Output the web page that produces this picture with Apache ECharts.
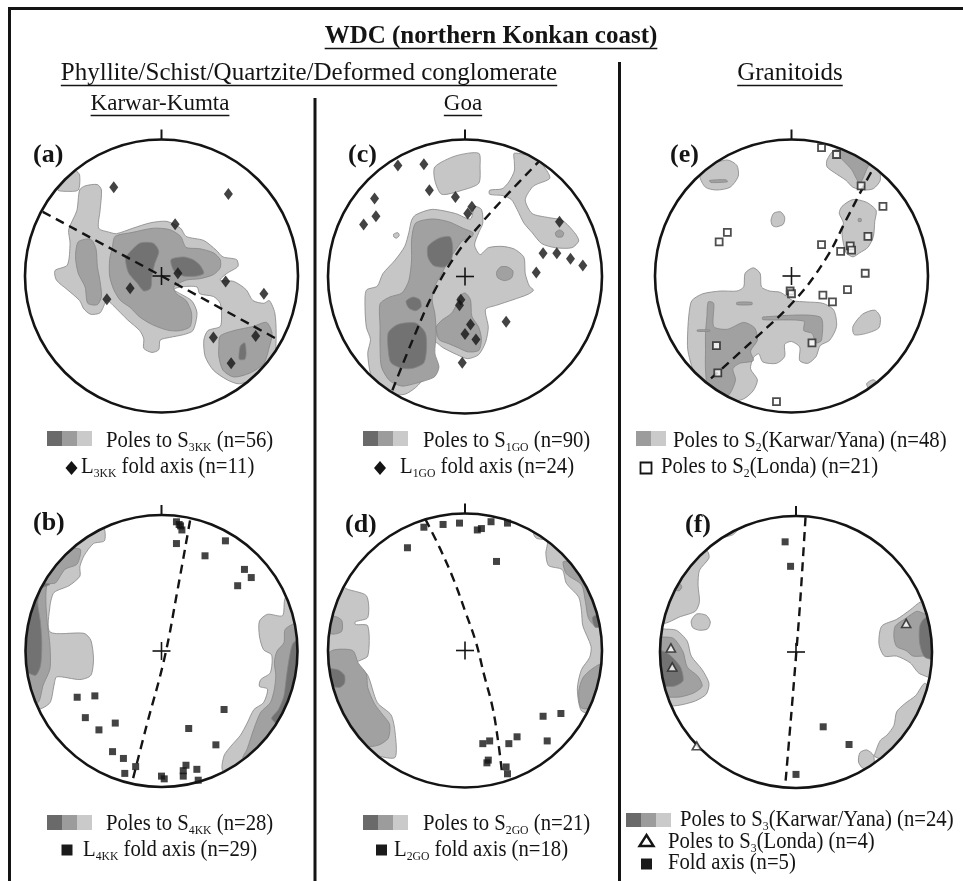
<!DOCTYPE html>
<html><head><meta charset="utf-8">
<script src="https://cdn.jsdelivr.net/npm/echarts@6.0.0/dist/echarts.min.js"></script>
<style>html,body{margin:0;padding:0;background:#fff}#c{width:963px;height:881px}</style>
</head><body><div id="c"></div>
<script>
// ---------------- DATA (stereonet coordinates, radius = 100) ----------------
// Panel (a) Karwar-Kumta S3KK / L3KK
const a_light = [
 [[-56,66],[-47,67],[-44,63],[-45,48],[-46,35],[-38,32],[-33,31],[-21,35],[-8,39],[4,40],[14,35],[18,29],[31,26],[40,19],[45,14],[55,12],[56,7],[48,2],[43,-3],[53,-4],[62,-10],[67,-18],[75,-20],[79,-18],[83,-27],[84,-42],[83,-57],[77,-66],[70,-74],[57,-79],[48,-76],[38,-69],[32,-59],[31,-47],[34,-40],[43,-37],[44,-30],[43,-20],[38,-15],[28,-13],[26,-8],[14,-8],[9,-10],[22,-18],[26,-27],[23,-40],[16,-43],[6,-45],[-1,-47],[-2,-54],[-7,-56],[-13,-53],[-13,-46],[-16,-40],[-25,-32],[-35,-22],[-40,-18],[-45,-27],[-52,-28],[-57,-24],[-60,-18],[-69,-10],[-77,-3],[-78,4],[-69,8],[-67,24],[-68,34],[-62,48],[-60,63]],
 [[-76,63],[-71,70],[-63,77],[-60,74],[-61,63],[-70,62]]
];
const a_mid = [
 [[-61,25],[-52,27],[-48,20],[-47,7],[-45,-4],[-44,-15],[-47,-21],[-54,-20],[-56,-8],[-61,2],[-63,14]],
 [[-34,29],[-21,32],[-6,35],[6,34],[14,29],[18,21],[28,20],[38,17],[43,12],[43,6],[38,1],[28,-2],[18,-3],[9,-8],[11,-13],[18,-18],[22,-27],[21,-37],[14,-40],[6,-40],[-1,-38],[-8,-35],[-16,-30],[-23,-23],[-30,-18],[-35,-10],[-38,0],[-38,12],[-36,21]],
 [[43,-44],[53,-40],[67,-37],[77,-34],[81,-42],[79,-52],[75,-64],[65,-71],[53,-74],[45,-69],[42,-59],[42,-52]]
];
const a_dark = [
 [[-26,14],[-16,24],[-6,24],[-2,18],[-5,9],[-7,0],[-8,-9],[-13,-11],[-18,-5],[-24,2],[-26,9]],
 [[7,12],[16,14],[23,12],[28,8],[31,2],[26,0],[16,0],[9,4]],
 [[58,-51],[61,-49],[62,-57],[61,-61],[57,-61],[57,-55]]
];
const a_fold = [[-35,65],[49,60],[10,38],[12,2],[47,-4],[-23,-9],[-40,-17],[75,-13],[38,-45],[69,-44],[51,-64]];
const a_girdle = [[-87,47],[0,0],[86,-47]];

// Panel (c) Goa S1GO / L1GO
const c_light = [
 [[-36,45],[-24,49],[-7,46],[4,42],[7,51],[12,49],[13,39],[10,32],[7,23],[11,16],[17,21],[27,22],[36,20],[43,14],[44,2],[47,-7],[50,-10],[46,-13],[35,-17],[23,-21],[15,-24],[17,-37],[15,-48],[10,-57],[2,-60],[-6,-57],[-16,-52],[-22,-48],[-24,-61],[-29,-73],[-36,-81],[-44,-86],[-56,-86],[-64,-83],[-69,-71],[-71,-56],[-69,-46],[-72,-37],[-73,-22],[-72,-10],[-64,-7],[-60,2],[-51,12],[-44,22],[-41,32],[-39,41]],
 [[-22,80],[-7,88],[10,90],[11,80],[10,68],[-2,63],[-17,60],[-22,70]],
 [[36,90],[52,86],[62,72],[50,66],[44,56],[49,46],[61,43],[71,41],[80,32],[83,26],[78,21],[66,21],[56,24],[49,32],[43,39],[38,49],[34,56],[28,59],[18,60],[18,63],[27,64],[32,69],[36,77],[36,84]],
 [[-52,31],[-49,32],[-48,30],[-50,28],[-52,29]]
];
const c_mid = [
 [[-36,39],[-24,42],[-12,40],[-1,35],[6,32],[5,29],[-2,26],[-7,19],[-12,12],[-17,2],[-22,-7],[-24,-17],[-22,-27],[-21,-41],[-22,-56],[-19,-66],[-22,-73],[-29,-76],[-36,-78],[-46,-80],[-55,-76],[-61,-66],[-62,-51],[-62,-37],[-62,-20],[-55,-15],[-46,-12],[-41,-3],[-39,12],[-39,27]],
 [[-5,-15],[0,-12],[4,-17],[5,-29],[10,-37],[12,-46],[10,-54],[2,-55],[-5,-52],[-12,-49],[-19,-46],[-21,-37],[-17,-32],[-10,-27],[-6,-20]],
 [[23,3],[26,7],[31,7],[35,4],[34,-1],[29,-3],[24,-1]],
 [[66,32],[69,34],[72,32],[71,29],[67,29]]
];
const c_dark = [
 [[-27,22],[-19,28],[-11,29],[-9,22],[-10,12],[-15,7],[-23,8],[-27,14]],
 [[-43,-18],[-38,-15],[-33,-17],[-32,-22],[-36,-25],[-41,-23]],
 [[-56,-41],[-49,-35],[-36,-34],[-29,-41],[-28,-51],[-30,-63],[-38,-67],[-46,-67],[-54,-63],[-56,-54]]
];
const c_fold = [[-49,81],[-30,82],[-66,57],[-26,63],[-7,58],[5,51],[2,46],[-65,44],[-74,38],[69,40],[57,17],[67,17],[77,13],[86,8],[52,3],[-3,-17],[-4,-21],[4,-35],[0,-42],[8,-46],[30,-33],[-2,-63]];
const c_girdle = [[-53,-83],[-36,-41],[-22,-10],[-5,18],[12,39],[32,61],[54,84]];

// Panel (e) Granitoids S2(Karwar/Yana) / S2(Londa)
const e_light = [
 [[-67,73],[-60,81],[-47,85],[-40,81],[-39,73],[-45,65],[-55,63],[-63,65]],
 [[26,85],[31,92],[45,95],[57,87],[64,79],[65,70],[60,64],[53,63],[45,65],[40,70],[31,76],[26,80]],
 [[37,51],[45,56],[55,54],[62,48],[61,40],[60,29],[56,21],[50,17],[45,14],[40,17],[38,24],[37,31],[38,39],[35,46]],
 [[-15,41],[-13,46],[-8,47],[-5,43],[-6,38],[-11,36],[-14,37]],
 [[45,-37],[52,-28],[61,-25],[65,-30],[64,-38],[55,-42],[46,-43]],
 [[-73,-18],[-65,-13],[-52,-11],[-40,-11],[-35,-8],[-34,2],[-28,6],[-23,2],[-22,-8],[-16,-11],[-8,-12],[1,-18],[11,-19],[23,-20],[31,-25],[33,-37],[28,-47],[21,-51],[18,-59],[12,-64],[6,-62],[6,-52],[0,-48],[-5,-50],[-5,-59],[-11,-64],[-21,-63],[-24,-57],[-28,-60],[-30,-68],[-25,-76],[-28,-84],[-35,-90],[-45,-92],[-57,-86],[-65,-79],[-72,-69],[-76,-54],[-76,-40],[-75,-27]],
 [[55,-79],[60,-76],[64,-80],[58,-84]]
];
const e_mid = [
 [[-60,70],[-48,70.5],[-47,69],[-59,68.5]],
 [[33,91],[45,94],[58,86],[55,78],[50,68],[44,78]],
 [[49,42],[51,42],[51,40],[49,40]],
 [[-61,-19],[-57,-20],[-57,-37],[-47,-39],[-35,-34],[-27,-38],[-25,-47],[-30,-55],[-28,-62],[-38,-64],[-43,-68],[-41,-76],[-45,-86],[-52,-92],[-61,-83],[-63,-69],[-63,-54],[-63,-42],[-62,-30]],
 [[-69,-39.5],[-60,-39.5],[-60,-40.5],[-69,-40.5]],
 [[-40,-19.3],[-29,-19.3],[-29,-21],[-40,-21]],
 [[-21,-30],[21,-30],[22,-47],[18,-49],[15,-42],[9,-40],[9,-33],[-21,-32]]
];
const e_londa = [[22,94],[33,89],[51,66],[67,51],[56,29],[22,23],[43,22],[36,18],[44,19],[54,2],[-1,-11],[0,-13],[23,-14],[30,-19],[41,-10],[15,-49],[-53,25],[-47,32],[-55,-51],[-54,-71],[-11,-92]];
const e_girdle = [[-59,-75],[-28,-47],[4,-16],[26,14],[40,41],[54,68],[60,79]];

// Panel (b) Karwar-Kumta S4KK / L4KK
const b_light = [
 [[-42,90],[-42,81],[-50,79],[-57,70],[-60,62],[-60,55],[-68,48],[-79,43],[-82,33],[-82,14],[-57,13],[-52,8],[-50,-6],[-52,-18],[-60,-21],[-77,-19],[-79,-25],[-82,-38],[-91,-43],[-104,-38],[-109,-1],[-104,36],[-89,65],[-69,87],[-47,97]],
 [[91,39],[89,26],[78,27],[72,22],[72,11],[75,1],[81,-3],[80,-16],[73,-21],[72,-26],[78,-28],[75,-38],[68,-43],[63,-53],[58,-62],[51,-70],[46,-77],[45,-88],[60,-95],[90,-60],[110,0],[100,45]]
];
const b_mid = [
 [[-60,75],[-62,64],[-71,60],[-78,50],[-84,49],[-85,36],[-84,21],[-82,4],[-82,-13],[-87,-25],[-91,-38],[-104,-30],[-108,10],[-100,45],[-80,72]],
 [[91,16],[90,6],[85,0],[83,-8],[84,-18],[83,-28],[80,-38],[73,-45],[68,-57],[63,-72],[60,-79],[80,-80],[105,-20],[100,20]]
];
const b_dark = [
 [[-82,49],[-88,46],[-91,36],[-89,21],[-88,6],[-89,-11],[-93,-18],[-105,-10],[-102,30],[-95,50]],
 [[97,6],[94,-5],[92,-18],[90,-33],[86,-43],[81,-50],[95,-58],[108,-20],[106,10]]
];
const b_fold = [[11,95],[13,93],[14,92],[15,89],[11,79],[47,81],[32,70],[61,60],[66,54],[56,48],[-62,-34],[-49,-33],[-56,-49],[-46,-58],[-34,-53],[20,-57],[46,-43],[40,-69],[-36,-74],[-28,-79],[-19,-85],[-27,-90],[0,-92],[2,-94],[16,-92],[18,-84],[16,-88],[26,-87],[27,-95]];
const b_girdle = [[21,96],[12,46],[2,-6],[-11,-55],[-22,-98]];

// Panel (d) Goa S2GO / L2GO
const d_light = [
 [[-88,46],[-72,40],[-71,24],[-80,21],[-80,19],[-71,18],[-71,-4],[-79,-9],[-71,-18],[-64,-38],[-54,-47],[-51,-60],[-51,-78],[-63,-77],[-80,-70],[-105,-20],[-100,30],[-85,55]],
 [[50,86],[52,82],[60,80],[59,71],[61,62],[71,59],[74,49],[83,39],[85,29],[86,18],[92,3],[91,-5],[85,-14],[82,-28],[85,-44],[95,-45],[110,0],[95,50],[70,80],[55,95]]
];
const d_mid = [
 [[-97,0],[-82,0],[-78,-9],[-72,-17],[-71,-27],[-66,-39],[-60,-47],[-55,-54],[-56,-64],[-63,-69],[-73,-70],[-85,-62],[-105,-10]],
 [[-96,25],[-90,22],[-90,14],[-97,12],[-106,18]],
 [[72,65],[74,56],[85,48],[88,35],[90,24],[95,18],[110,20],[90,60]],
 [[92,-14],[86,-20],[83,-30],[85,-42],[100,-40],[100,-10]]
];
const d_dark = [
 [[-101,-14],[-93,-14],[-88,-18],[-88,-24],[-92,-27],[-101,-24]],
 [[93,24],[97,26],[100,18],[95,17]]
];
const d_fold = [[-30,90],[-16,92],[-4,93],[9,88],[12,89],[19,94],[31,93],[-42,75],[23,65],[13,-68],[18,-66],[32,-68],[38,-63],[57,-48],[70,-46],[60,-66],[16,-82],[17,-80],[30,-85],[31,-90]];
const d_girdle = [[-29,96],[-18,74],[-8,51],[0,29],[8,6],[14,-18],[20,-41],[24,-65],[27,-89]];

// Panel (f) Granitoids S3(Karwar/Yana) / S3(Londa) / fold axis
const f_light = [
 [[-58,84],[-47,86],[-43,90],[-50,95]],
 [[-65,74],[-64,69],[-71,60],[-72,49],[-71,37],[-74,30],[-85,26],[-98,21],[-110,30],[-95,60],[-75,80]],
 [[-77,23],[-73,28],[-66,27],[-63,22],[-65,17],[-71,16],[-76,18]],
 [[-98,17],[-88,16],[-80,8],[-77,-3],[-69,-13],[-64,-23],[-66,-31],[-74,-36],[-85,-39],[-95,-40],[-110,-40],[-110,20]],
 [[92,37],[84,31],[74,24],[63,19],[61,6],[65,-3],[74,-3],[84,-8],[91,-16],[110,-20],[110,40]],
 [[95,-23],[88,-32],[80,-38],[74,-44],[72,-54],[67,-61],[62,-65],[59,-72],[58,-77],[75,-80],[105,-40]],
 [[52,-72],[57,-76],[57,-83],[50,-86],[46,-81],[47,-74]]
];
const f_mid = [
 [[-88,53],[-84,48],[-86,45],[-92,47]],
 [[-99,11],[-90,10],[-83,0],[-80,-11],[-72,-18],[-69,-25],[-75,-30],[-85,-33],[-96,-33],[-110,-30],[-110,10]],
 [[73,19],[81,25],[89,30],[95,28],[108,28],[108,-5],[95,-3],[86,-3],[81,1],[74,4],[72,11]]
];
const f_dark = [
 [[-99,1],[-93,-2],[-85,-11],[-83,-21],[-89,-25],[-98,-25],[-110,-20],[-110,0]],
 [[91,19],[95,25],[110,25],[110,-5],[95,-4],[91,6]]
];
const f_londa = [[-92,3],[-91,-11],[81,21],[-73,-69]];
const f_fold = [[-8,81],[-4,63],[20,-55],[39,-68],[0,-90]];
const f_girdle = [[7,99],[3,36],[0,-3],[-4,-52],[-8,-99]];

// Text
const panelLabels = ['(a)', '(c)', '(e)', '(b)', '(d)', '(f)'];
const legendTexts = {
  a: [[['Poles to S'], ['3KK', 1], [' (n=56)']], [['L'], ['3KK', 1], [' fold axis (n=11)']]],
  c: [[['Poles to S'], ['1GO', 1], [' (n=90)']], [['L'], ['1GO', 1], [' fold axis (n=24)']]],
  e: [[['Poles to S'], ['2', 1], ['(Karwar/Yana) (n=48)']], [['Poles to S'], ['2', 1], ['(Londa) (n=21)']]],
  b: [[['Poles to S'], ['4KK', 1], [' (n=28)']], [['L'], ['4KK', 1], [' fold axis (n=29)']]],
  d: [[['Poles to S'], ['2GO', 1], [' (n=21)']], [['L'], ['2GO', 1], [' fold axis (n=18)']]],
  f: [[['Poles to S'], ['3', 1], ['(Karwar/Yana) (n=24)']], [['Poles to S'], ['3', 1], ['(Londa) (n=4)']], [['Fold axis (n=5)']]]
};

// ---------------- STYLE / LAYOUT ----------------
const LIGHT = '#c6c6c6', MID = '#a1a1a1', DARK = '#727272';
const SW = ['#6a6a6a', '#9c9c9c', '#cacaca'];
const INK = '#141414';
const FF = '"Liberation Serif","Times New Roman",serif';

const panels = [
  {cx:161.5, cy:276, r:136.5, light:a_light, mid:a_mid, dark:a_dark, girdle:a_girdle, pts:[[a_fold,'diamond']], lab:[33,155]},
  {cx:465, cy:276.5, r:137, light:c_light, mid:c_mid, dark:c_dark, girdle:c_girdle, pts:[[c_fold,'diamond']], lab:[348,155]},
  {cx:791.5, cy:276, r:136.5, light:e_light, mid:e_mid, dark:[], girdle:e_girdle, pts:[[e_londa,'open']], lab:[670,155]},
  {cx:161.5, cy:651, r:136, light:b_light, mid:b_mid, dark:b_dark, girdle:b_girdle, pts:[[b_fold,'square']], lab:[33,523]},
  {cx:465, cy:650.5, r:137, light:d_light, mid:d_mid, dark:d_dark, girdle:d_girdle, pts:[[d_fold,'square']], lab:[345,525]},
  {cx:796, cy:652, r:136, light:f_light, mid:f_mid, dark:f_dark, girdle:f_girdle, pts:[[f_londa,'tri'],[f_fold,'square']], lab:[685,525]}
];

const symStyles = {
  diamond: {symbol:'diamond', symbolSize:[9,12], itemStyle:{color:INK}},
  square: {symbol:'rect', symbolSize:7, itemStyle:{color:INK}},
  open: {symbol:'rect', symbolSize:7, itemStyle:{color:'#fff', borderColor:'#222', borderWidth:1.8}},
  tri: {symbol:'triangle', symbolSize:[9,8], itemStyle:{color:'#fff', borderColor:'#222', borderWidth:1.6}}
};

const grids = [], xAxes = [], yAxes = [], series = [];
panels.forEach((p, i) => {
  grids.push({left:p.cx - p.r, top:p.cy - p.r, width:2*p.r, height:2*p.r, containLabel:false});
  xAxes.push({type:'value', gridIndex:i, min:-100, max:100, show:false});
  yAxes.push({type:'value', gridIndex:i, min:-100, max:100, show:false});
  [[p.light, LIGHT], [p.mid, MID], [p.dark, DARK]].forEach(([polys, col]) => {
    if (!polys.length) return;
    series.push({
      type:'custom', xAxisIndex:i, yAxisIndex:i, z:2, silent:true, clip:false,
      data: polys.map((pl, k) => [pl[0][0], pl[0][1], k]),
      renderItem: (params, api) => {
        const pl = polys[params.dataIndex];
        return {type:'polygon', shape:{points: pl.map(v => api.coord(v)), smooth:0.25},
                style:{fill:col, stroke:'#858585', lineWidth:0.8}};
      }
    });
  });
  // net frame: outside mask, primitive circle, north tick, centre cross
  series.push({
    type:'custom', xAxisIndex:i, yAxisIndex:i, z:3, silent:true, clip:false,
    data:[[0,0]],
    renderItem: (params, api) => {
      const c = api.coord([0,0]);
      const R = api.coord([100,0])[0] - c[0];
      return {type:'group', children:[
        {type:'circle', shape:{cx:c[0], cy:c[1], r:R+14}, style:{fill:'none', stroke:'#fff', lineWidth:28}},
        {type:'circle', shape:{cx:c[0], cy:c[1], r:R}, style:{fill:'none', stroke:INK, lineWidth:2.6}},
        {type:'line', shape:{x1:c[0], y1:c[1]-R, x2:c[0], y2:c[1]-R-10}, style:{stroke:INK, lineWidth:2}},
        {type:'line', shape:{x1:c[0]-9, y1:c[1], x2:c[0]+9, y2:c[1]}, style:{stroke:INK, lineWidth:1.6}},
        {type:'line', shape:{x1:c[0], y1:c[1]-9, x2:c[0], y2:c[1]+9}, style:{stroke:INK, lineWidth:1.6}}
      ]};
    }
  });
  series.push({type:'line', xAxisIndex:i, yAxisIndex:i, z:4, silent:true, data:p.girdle, smooth:0.4,
    symbol:'none', lineStyle:{color:INK, width:2.4, type:[9,6]}});
  p.pts.forEach(([pts, kind]) => {
    series.push(Object.assign({type:'scatter', xAxisIndex:i, yAxisIndex:i, z:5, silent:true, data:pts}, symStyles[kind]));
  });
});

// ---------------- TEXT & FRAME (graphic) ----------------
const mctx = document.createElement('canvas').getContext('2d');
function fnt(size, bold) { return (bold ? 'bold ' : '') + size + 'px ' + FF; }
function tw(t, font) { mctx.font = font; return mctx.measureText(t).width; }
const G = [];
function txt(t, x, base, size, o) {
  o = o || {};
  G.push({type:'text', z:100, silent:true, x:x, y:base - 0.3375*size, scaleX:o.sx || 1,
    style:{text:t, font:fnt(size, o.bold), fill:INK, textAlign:o.align || 'left', textVerticalAlign:'middle'}});
}
function uText(t, cx, base, size, bold) {
  txt(t, cx, base, size, {bold:bold, align:'center'});
  const w = tw(t, fnt(size, bold));
  G.push({type:'line', z:100, silent:true, shape:{x1:cx - w/2, y1:base + 3.5, x2:cx + w/2, y2:base + 3.5}, style:{stroke:INK, lineWidth:1.6}});
}
function vline(x, y1, y2, w) { G.push({type:'line', z:100, silent:true, shape:{x1:x, y1:y1, x2:x, y2:y2}, style:{stroke:INK, lineWidth:w}}); }
function hline(y, x1, x2, w) { G.push({type:'line', z:100, silent:true, shape:{x1:x1, y1:y, x2:x2, y2:y}, style:{stroke:INK, lineWidth:w}}); }

hline(8.5, 8, 963, 3);
vline(9.5, 7, 881, 3);
vline(315, 98, 881, 3);
vline(619.5, 62, 881, 3);

uText('WDC (northern Konkan coast)', 491, 45, 25, true);
uText('Phyllite/Schist/Quartzite/Deformed conglomerate', 309, 82, 25, false);
uText('Granitoids', 790, 82, 25, false);
uText('Karwar-Kumta', 160, 112, 23, false);
uText('Goa', 463, 112, 23, false);

panels.forEach((p, i) => txt(panelLabels[i], p.lab[0], p.lab[1] + 0.3375*26, 26, {bold:true}));

const LS = 23, LSX = 0.9;
function rline(x, base, parts) {
  let cx = x;
  parts.forEach(pt => {
    const sub = pt[1] === 1;
    const fs = sub ? 13 : LS;
    txt(pt[0], cx, sub ? base + 3 : base, fs, {sx:LSX});
    cx += tw(pt[0], fnt(fs)) * LSX;
  });
}
function swatch(x, y, cols, h) { cols.forEach((c, k) => G.push({type:'rect', z:100, silent:true, shape:{x:x + k*15, y:y, width:15, height:h}, style:{fill:c}})); }
function diamondIcon(cx, cy) { G.push({type:'polygon', z:100, silent:true, shape:{points:[[cx, cy-7],[cx+6, cy],[cx, cy+7],[cx-6, cy]]}, style:{fill:INK}}); }
function squareIcon(cx, cy, s, open) {
  G.push({type:'rect', z:100, silent:true, shape:{x:cx - s/2, y:cy - s/2, width:s, height:s},
    style: open ? {fill:'#fff', stroke:INK, lineWidth:1.8} : {fill:'#1a1a1a'}});
}
function triIcon(cx, cy) { G.push({type:'polygon', z:100, silent:true, shape:{points:[[cx, cy-6],[cx+7, cy+5],[cx-7, cy+5]]}, style:{fill:'#fff', stroke:INK, lineWidth:2.4}}); }

// row 1 legends
swatch(47, 431, SW, 15); rline(106, 449, legendTexts.a[0]); diamondIcon(71.5, 468); rline(81, 475, legendTexts.a[1]);
swatch(363, 431, SW, 15); rline(423, 449, legendTexts.c[0]); diamondIcon(380, 468); rline(400, 475, legendTexts.c[1]);
swatch(636, 431, [SW[1], SW[2]], 15); rline(673, 449, legendTexts.e[0]); squareIcon(646, 468, 11, true); rline(661, 475, legendTexts.e[1]);
// row 2 legends
swatch(47, 815, SW, 15); rline(106, 832, legendTexts.b[0]); squareIcon(67, 850, 11, false); rline(83, 858, legendTexts.b[1]);
swatch(363, 815, SW, 15); rline(423, 832, legendTexts.d[0]); squareIcon(381.5, 850, 11, false); rline(394, 858, legendTexts.d[1]);
swatch(626, 813, SW, 14); rline(680, 828, legendTexts.f[0]); triIcon(646.5, 841); rline(668, 850, legendTexts.f[1]);
squareIcon(646.5, 864, 11, false); rline(668, 871, legendTexts.f[2]);

const chart = echarts.init(document.getElementById('c'), null, {renderer:'canvas'});
chart.setOption({
  backgroundColor:'#fff', animation:false,
  grid:grids, xAxis:xAxes, yAxis:yAxes, series:series,
  graphic:{elements:G}
});
</script></body></html>
